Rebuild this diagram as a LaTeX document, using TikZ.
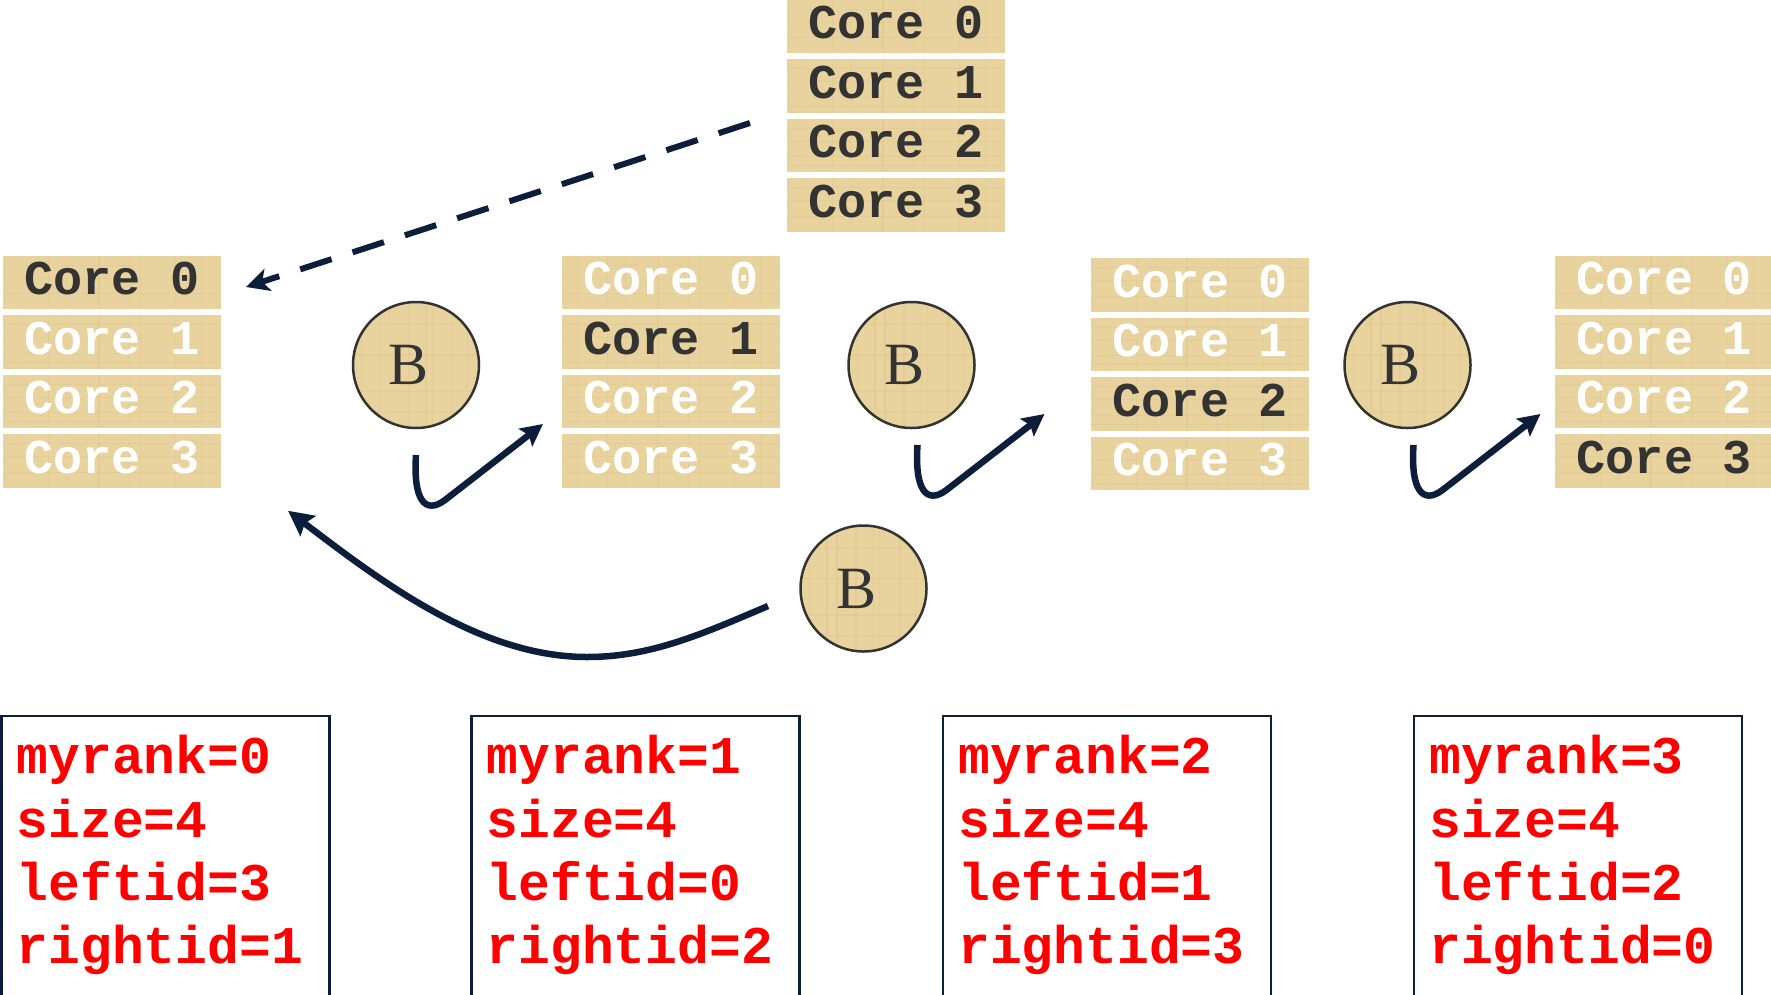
\documentclass[tikz,border=0pt]{standalone}
\usepackage{fontspec}
\usetikzlibrary{arrows.meta,calc}
\newfontfamily\coremono{Liberation Mono}
\newfontfamily\bserif{Liberation Serif}
\definecolor{paper}{RGB}{232,210,157}
\definecolor{paperfibre}{RGB}{205,180,120}
\definecolor{navy}{RGB}{12,30,60}
\definecolor{inkdark}{RGB}{51,51,51}
\definecolor{rankred}{RGB}{255,0,0}

\begin{document}
\begin{tikzpicture}[x=1pt,y=-1pt,
  fibres/.style={path picture={
    \foreach \f in {0.07,0.21,0.29,0.44,0.58,0.63,0.79,0.91}{
      \draw[paperfibre, opacity=0.18, line width=1.2pt]
        ($(path picture bounding box.north west)!\f!(path picture bounding box.north east)$) --
        ($(path picture bounding box.south west)!\f!(path picture bounding box.south east)$);}
    \foreach \f in {0.18,0.42,0.71,0.88}{
      \draw[paperfibre, opacity=0.18, line width=1.2pt]
        ($(path picture bounding box.north west)!\f!(path picture bounding box.south west)$) --
        ($(path picture bounding box.north east)!\f!(path picture bounding box.south east)$);}
  }},
  corebox/.style={rectangle, fill=paper, fibres, minimum width=218pt, minimum height=53.5pt,
    inner sep=0pt, outer sep=0pt, text depth=8pt, text=white,
    font={\coremono\bfseries\fontsize{48.5}{50}\selectfont}},
  active/.style={text=inkdark},
  barrier/.style={circle, fill=paper, fibres, draw=inkdark, line width=2.5pt, minimum size=126pt,
    inner sep=0pt, text=inkdark, font={\bserif\fontsize{60}{60}\selectfont}},
  flow/.style={draw=navy, line width=6.5pt, -{Stealth[length=22pt,width=22pt,inset=4pt]}},
  bigflow/.style={draw=navy, line width=6.5pt, -{Stealth[length=25pt,width=25pt,inset=4pt]}},
  ghostflow/.style={draw=navy, line width=6pt, dash pattern=on 33pt off 22pt,
    -{Stealth[length=23pt,width=23pt,inset=6pt]}},
  infobox/.style={rectangle, draw=navy, line width=2.5pt, minimum width=328pt,
    minimum height=300pt, inner sep=0pt, outer sep=0pt, anchor=north west},
  infotext/.style={anchor=base west, inner sep=0pt, text=rankred,
    font={\coremono\bfseries\fontsize{53}{63}\selectfont}},
]
\useasboundingbox (0,0) rectangle (1771,994);
\clip (0,0) rectangle (1771,994);

% core stacks: name / centre x / first row centre y / highlighted core (-1 = all)
\foreach \s/\x/\y/\a in {top/896/26.5/-1, p0/112/282.5/0, p1/671/282.5/1,
                         p2/1200/285/2, p3/1664/282.5/3}{
  \foreach \c in {0,...,3}{
    \ifnum\a<0 \def\st{active}\else\ifnum\c=\a \def\st{active}\else\def\st{}\fi\fi
    \node[corebox,\st] (\s c\c) at (\x,\y+59.5*\c) {Core \c};
  }
}

% barrier circles
\node[barrier] (b0) at (416,365)     {\hspace*{-14pt}B};
\node[barrier] (b1) at (911.5,365)   {\hspace*{-14pt}B};
\node[barrier] (b2) at (1407.5,365)  {\hspace*{-14pt}B};
\node[barrier] (b3) at (863.5,588.5) {\hspace*{-14pt}B};

% rank information boxes
\foreach \i/\x/\l/\r in {0/1.5/3/1, 1/471.5/0/2, 2/943/1/3, 3/1414/2/0}{
  \node[infobox] (info\i) at (\x,716) {};
  \node[infotext] (rank\i)  at ($(info\i.north west)+(15,57)$)  {myrank=\i};
  \node[infotext] (size\i)  at ($(info\i.north west)+(15,121)$) {size=4};
  \node[infotext] (left\i)  at ($(info\i.north west)+(15,184)$) {leftid=\l};
  \node[infotext] (right\i) at ($(info\i.north west)+(15,247)$) {rightid=\r};
}

% hand-over arrows below each barrier
\coordinate (a0s) at ($(b0.center)+(0,90)$);
\coordinate (a1s) at ($(b1.center)+(6,80)$);
\coordinate (a2s) at ($(b2.center)+(6,80)$);
\foreach \k in {0,1,2}{
  \coordinate (a\k t) at ($(a\k s)+(127,-31)$);
  \draw[flow] (a\k s) .. controls ($(a\k s)+(-3,45)$) and ($(a\k s)+(9,60)$)
    .. ($(a\k s)+(29,45)$) -- (a\k t);
}

% wrap-around arrow back to the first stack
\coordinate (rs) at ($(b3.center)+(-95.5,17.5)$);
\coordinate (rt) at ($(p0c3.south east)+(67,23)$);
\draw[bigflow] (rs) .. controls ($(rs)+(-68,29)$) and ($(rs)+(-118,51)$)
  .. ($(rs)+(-181,51)$) .. controls ($(rs)+(-288,51)$) and ($(rt)+(92,70)$) .. (rt);

% dashed start arrow
\coordinate (ds) at ($(topc1.west)+(-37,37)$);
\coordinate (dt) at ($(p0c0.east)+(25,4.5)$);
\draw[ghostflow] (ds) -- (dt);
\end{tikzpicture}
\end{document}
